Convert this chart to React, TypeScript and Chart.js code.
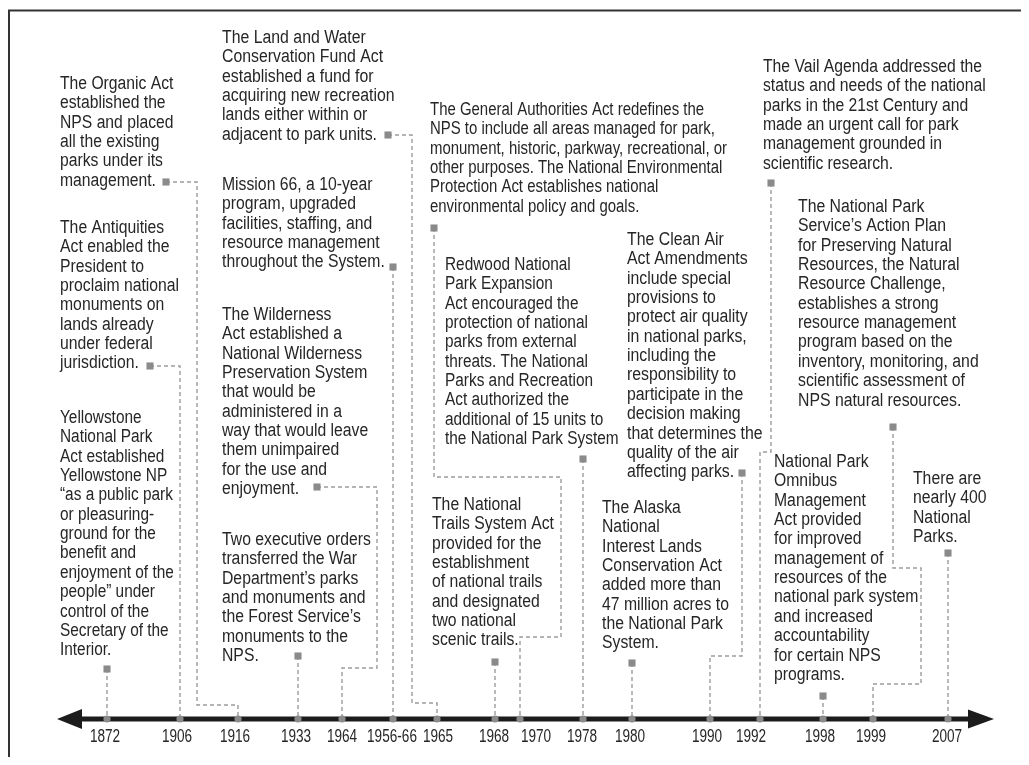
import { useEffect, useRef } from 'react';
import { Chart, registerables } from 'chart.js';

Chart.register(...registerables);

// Timeline ticks: label and position along the timeline (axis units)
const yearLabels = ['1872', '1906', '1916', '1933', '1964', '1956-66', '1965', '1968', '1970', '1978', '1980', '1990', '1992', '1998', '1999', '2007'];
const yearPos = [107, 180, 238, 298, 342, 393, 437, 495, 520, 583, 632, 710, 760, 823, 873, 948];
// Where each year label is centred along the timeline
const yearLabelPos = [105, 177, 235, 296, 342, 392, 438, 494, 536, 582, 630, 707, 751, 820, 871, 947];

// Which tick each event connects to
const eventYearIdx = [0, 1, 2, 3, 4, 5, 6, 8, 9, 7, 11, 10, 12, 14, 13, 15];

const eventTexts = [
  ['Yellowstone', 'National Park', 'Act established', 'Yellowstone NP', '\u201Cas a public park', 'or pleasuring-', 'ground for the', 'benefit and', 'enjoyment of the', 'people\u201D under', 'control of the', 'Secretary of the', 'Interior.'],
  ['The Antiquities', 'Act enabled the', 'President to', 'proclaim national', 'monuments on', 'lands already', 'under federal', 'jurisdiction.'],
  ['The Organic Act', 'established the', 'NPS and placed', 'all the existing', 'parks under its', 'management.'],
  ['Two executive orders', 'transferred the War', 'Department\u2019s parks', 'and monuments and', 'the Forest Service\u2019s', 'monuments to the', 'NPS.'],
  ['The Wilderness', 'Act established a', 'National Wilderness', 'Preservation System', 'that would be', 'administered in a', 'way that would leave', 'them unimpaired', 'for the use and', 'enjoyment.'],
  ['Mission 66, a 10-year', 'program, upgraded', 'facilities, staffing, and', 'resource management', 'throughout the System.'],
  ['The Land and Water', 'Conservation Fund Act', 'established a fund for', 'acquiring new recreation', 'lands either within or', 'adjacent to park units.'],
  ['The General Authorities Act redefines the', 'NPS to include all areas managed for park,', 'monument, historic, parkway, recreational, or', 'other purposes. The National Environmental', 'Protection Act establishes national', 'environmental policy and goals.'],
  ['Redwood National', 'Park Expansion', 'Act encouraged the', 'protection of national', 'parks from external', 'threats. The National', 'Parks and Recreation', 'Act authorized the', 'additional of 15 units to', 'the National Park System'],
  ['The National', 'Trails System Act', 'provided for the', 'establishment', 'of national trails', 'and designated', 'two national', 'scenic trails.'],
  ['The Clean Air', 'Act Amendments', 'include special', 'provisions to', 'protect air quality', 'in national parks,', 'including the', 'responsibility to', 'participate in the', 'decision making', 'that determines the', 'quality of the air', 'affecting parks.'],
  ['The Alaska', 'National', 'Interest Lands', 'Conservation Act', 'added more than', '47 million acres to', 'the National Park', 'System.'],
  ['The Vail Agenda addressed the', 'status and needs of the national', 'parks in the 21st Century and', 'made an urgent call for park', 'management grounded in', 'scientific research.'],
  ['The National Park', 'Service\u2019s Action Plan', 'for Preserving Natural', 'Resources, the Natural', 'Resource Challenge,', 'establishes a strong', 'resource management', 'program based on the', 'inventory, monitoring, and', 'scientific assessment of', 'NPS natural resources.'],
  ['National Park', 'Omnibus', 'Management', 'Act provided', 'for improved', 'management of', 'resources of the', 'national park system', 'and increased', 'accountability', 'for certain NPS', 'programs.'],
  ['There are', 'nearly 400', 'National', 'Parks.'],
];

// Horizontal condensing of each text block
const blockSqueeze = [0.855, 0.875, 0.872, 0.875, 0.875, 0.875, 0.88, 0.83, 0.855, 0.875, 0.88, 0.875, 0.873, 0.878, 0.875, 0.875];

// Text block anchor: [left, first baseline height above the timeline]
const textAnchors = [[60, 296], [60, 486], [60, 630], [222, 174], [222, 399], [222, 529], [222, 676], [430, 604], [445, 449], [432, 209], [627, 474], [602, 206], [763, 647], [798, 507], [774, 252], [913, 235]];

// Square marker of each event
const markerPos = [[107, 50], [150, 353], [166, 537], [298, 63], [317, 232], [393, 452], [388, 584], [434, 491], [583, 260], [495, 57], [742, 246], [632, 56], [771, 536], [893, 292], [823, 23], [948, 166]];

// Elbows of the dashed leader from marker to tick
const connectorElbows = [
  [],
  [[180, 353]],
  [[197, 537], [197, 14], [238, 14]],
  [],
  [[377, 232], [377, 51], [342, 51]],
  [],
  [[412, 584], [412, 16], [437, 16]],
  [[434, 242], [561, 242], [561, 82], [520, 82]],
  [],
  [],
  [[742, 63], [710, 63]],
  [],
  [[771, 267], [760, 267]],
  [[893, 151], [921, 151], [921, 35], [873, 35]],
  [],
  [],
];

const X_MIN = 8;
const X_MAX = 1021;
const Y_MAX = 711;
const FRAME_LEFT = 9;
const FRAME_TOP = 708.5;
const ARROW = { leftTip: 57, leftBase: 82, rightBase: 968, rightTip: 994 };

const FONT = "'Liberation Sans', Arial, sans-serif";
const TEXT_SIZE = 18;
const TICK_SIZE = 18;
const TICK_SQUEEZE = 0.755;
const TICK_BASELINE = 23;
const LINE_H = 19.35;
const TEXT_COLOR = '#262626';
const MARK_COLOR = '#8a8a8a';
const DASH_COLOR = '#9c9c9c';

function drawNarrow(ctx: CanvasRenderingContext2D, text: string, x: number, y: number, squeeze: number) {
  ctx.save();
  ctx.translate(x, y);
  ctx.scale(squeeze, 1);
  ctx.fillText(text, 0, 0);
  ctx.restore();
}

const timelinePlugin = {
  id: 'timelineDecor',
  beforeDatasetsDraw(chart: any) {
    const { ctx } = chart;
    const x = chart.scales.x;
    const y = chart.scales.y;
    ctx.save();
    // frame (cropped box)
    ctx.strokeStyle = '#333333';
    ctx.lineWidth = 2;
    const fl = x.getPixelForValue(FRAME_LEFT);
    const ft = y.getPixelForValue(FRAME_TOP);
    ctx.beginPath();
    ctx.moveTo(fl, chart.height + 20);
    ctx.lineTo(fl, ft);
    ctx.lineTo(chart.width + 20, ft);
    ctx.stroke();
    // timeline bar with arrowheads
    const ay = y.getPixelForValue(0);
    const lt = x.getPixelForValue(ARROW.leftTip);
    const lb = x.getPixelForValue(ARROW.leftBase);
    const rb = x.getPixelForValue(ARROW.rightBase);
    const rt = x.getPixelForValue(ARROW.rightTip);
    ctx.fillStyle = '#1c1c1c';
    ctx.fillRect(lb - 1, ay - 2.5, rb - lb + 2, 5);
    ctx.beginPath();
    ctx.moveTo(lt, ay);
    ctx.lineTo(lb, ay - 10);
    ctx.lineTo(lb, ay + 10);
    ctx.closePath();
    ctx.fill();
    ctx.beginPath();
    ctx.moveTo(rt, ay);
    ctx.lineTo(rb, ay - 9.5);
    ctx.lineTo(rb, ay + 9.5);
    ctx.closePath();
    ctx.fill();
    ctx.restore();
  },
  afterDatasetsDraw(chart: any) {
    const { ctx } = chart;
    const x = chart.scales.x;
    const y = chart.scales.y;
    ctx.save();
    ctx.fillStyle = TEXT_COLOR;
    // event descriptions
    ctx.font = `${TEXT_SIZE}px ${FONT}`;
    ctx.textAlign = 'left';
    ctx.textBaseline = 'alphabetic';
    eventTexts.forEach((lines, i) => {
      const px = x.getPixelForValue(textAnchors[i][0]);
      const py = y.getPixelForValue(textAnchors[i][1]);
      lines.forEach((line, j) => {
        drawNarrow(ctx, line, px, py + j * LINE_H, blockSqueeze[i]);
      });
    });
    // year tick labels, one per x-scale tick
    ctx.font = `${TICK_SIZE}px ${FONT}`;
    ctx.textAlign = 'center';
    ctx.textBaseline = 'alphabetic';
    const ay = y.getPixelForValue(0);
    x.ticks.forEach((t: any) => {
      const idx = yearPos.indexOf(Number(t.value));
      if (idx < 0) return;
      drawNarrow(ctx, yearLabels[idx], x.getPixelForValue(yearLabelPos[idx]), ay + TICK_BASELINE, TICK_SQUEEZE);
    });
    ctx.restore();
  },
};

export default function App() {
  const canvasRef = useRef<HTMLCanvasElement | null>(null);

  useEffect(() => {
    if (!canvasRef.current) return;

    const dotData = yearPos.map((p) => ({ x: p, y: 0 }));
    const markerData = markerPos.map(([mx, my]) => ({ x: mx, y: my }));
    const connectorSets = markerPos.map(([mx, my], i) => {
      const pts = [[mx, my], ...connectorElbows[i], [yearPos[eventYearIdx[i]], 0]];
      return {
        type: 'line' as const,
        label: 'leader ' + yearLabels[eventYearIdx[i]],
        data: pts.map(([px, py]) => ({ x: px, y: py })),
        showLine: true,
        borderColor: DASH_COLOR,
        borderWidth: 1.4,
        borderDash: [4, 3],
        pointRadius: 0,
        pointHoverRadius: 0,
        tension: 0,
        fill: false,
        clip: false as any,
      };
    });

    const chart = new Chart(canvasRef.current, {
      type: 'scatter',
      data: {
        datasets: [
          {
            label: 'years',
            data: dotData,
            pointStyle: 'circle',
            pointRadius: 3.6,
            pointHoverRadius: 3.6,
            pointBackgroundColor: MARK_COLOR,
            pointBorderWidth: 0,
            clip: false as any,
          },
          {
            label: 'markers',
            data: markerData,
            pointStyle: 'rect',
            pointRadius: 5,
            pointHoverRadius: 5,
            pointBackgroundColor: MARK_COLOR,
            pointBorderWidth: 0,
            clip: false as any,
          },
          ...connectorSets,
        ] as any,
      },
      options: {
        animation: false,
        responsive: false,
        devicePixelRatio: 1,
        layout: { autoPadding: false, padding: { left: 0, right: 0, top: 0, bottom: 38 } },
        plugins: {
          legend: { display: false },
          tooltip: { enabled: false },
          title: { display: false },
        },
        events: [],
        scales: {
          x: {
            type: 'linear',
            position: 'bottom',
            min: X_MIN,
            max: X_MAX,
            grid: { display: false, drawTicks: false },
            border: { display: false },
            afterBuildTicks: (scale: any) => {
              scale.ticks = yearPos.map((v) => ({ value: v }));
            },
            ticks: { display: false, autoSkip: false },
          },
          y: {
            type: 'linear',
            display: false,
            min: 0,
            max: Y_MAX,
          },
        },
      },
      plugins: [timelinePlugin],
    });

    return () => {
      chart.destroy();
    };
  }, []);

  return (
    <div style={{ width: '1013px', height: '749px', background: '#ffffff' }}>
      <canvas ref={canvasRef} width={1013} height={749} style={{ display: 'block' }} />
    </div>
  );
}
